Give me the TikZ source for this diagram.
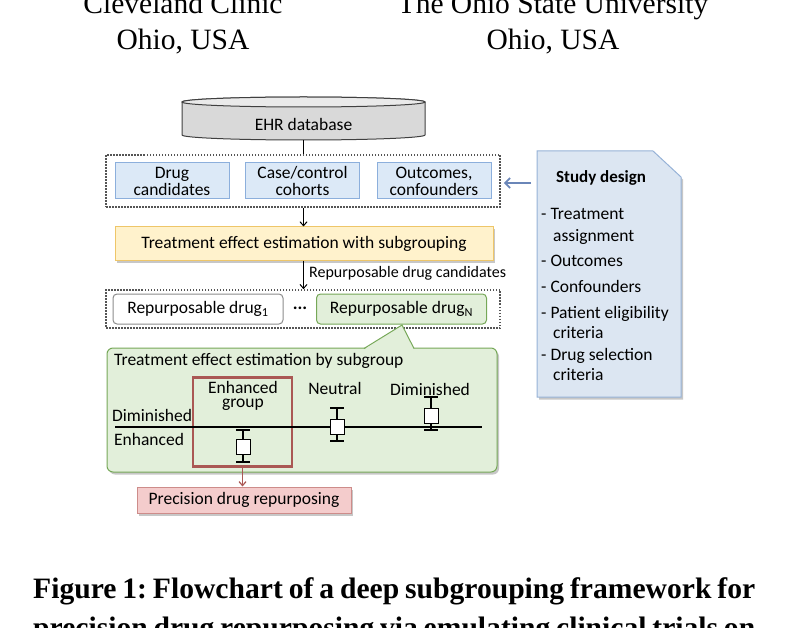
\documentclass[tikz,border=0pt]{standalone}
\usepackage{fontspec}
\setmainfont{Liberation Serif}
\newfontfamily\calfont{Carlito}
\usetikzlibrary{arrows.meta,shadows}
\definecolor{blueF}{RGB}{220,233,247}
\definecolor{blueD}{RGB}{140,175,220}
\definecolor{yelF}{RGB}{255,242,204}
\definecolor{yelD}{RGB}{238,198,105}
\definecolor{grnF}{RGB}{226,239,218}
\definecolor{grnD}{RGB}{118,168,88}
\definecolor{redD}{RGB}{170,88,84}
\definecolor{pinkF}{RGB}{244,204,204}
\definecolor{pinkD}{RGB}{205,140,138}
\definecolor{docF}{RGB}{220,230,242}
\definecolor{docD}{RGB}{150,178,215}
\definecolor{arrB}{RGB}{106,134,184}
\definecolor{cylF}{RGB}{217,217,217}
\definecolor{cylD}{RGB}{64,64,64}
\definecolor{dotD}{RGB}{85,85,85}
\newcommand\boxplt[5]{%
  \draw[line width=1.2pt] (#1,#2) -- (#1,#5);
  \draw[line width=1.3pt] (#1-7,#2) -- (#1+7,#2);
  \draw[line width=1.3pt] (#1-7,#5) -- (#1+7,#5);
  \draw[line width=1pt, fill=white] (#1-7,#3) rectangle (#1+7,#4);}
\frenchspacing
\begin{document}
\begin{tikzpicture}[x=1pt,y=-1pt,
  font=\calfont\fontsize{17.5}{17}\selectfont,
  paper/.style={font=\fontsize{29.5}{30}\selectfont, inner sep=0pt},
  capt/.style={font=\bfseries\fontsize{29.6}{30}\selectfont, inner sep=0pt, anchor=base west},
  dotbox/.style={draw=dotD, line width=1.6pt, dash pattern=on 1.5pt off 1.5pt, inner sep=0pt},
  bluebox/.style={draw=blueD, fill=blueF, line width=1pt, minimum width=114pt, minimum height=36pt, align=center, inner sep=0pt},
  drugbox/.style={draw=black!45, fill=white, line width=1pt, rounded corners=4pt, minimum width=170pt, minimum height=30pt, inner sep=0pt},
  shad/.style={drop shadow={shadow xshift=2pt, shadow yshift=-2.5pt, opacity=0.22, fill=black}},
  conn/.style={line width=1.1pt, -{Straight Barb[length=4pt,width=7pt,line width=1pt]}},
  sdline/.style={anchor=base west, inner sep=0pt},
]
\useasboundingbox (0,0) rectangle (786,628);
\clip (0,0) rectangle (786,628);

% paper text
\node[paper, anchor=base] (aff1) at (183,14) {Cleveland Clinic};
\node[paper, anchor=base] (loc1) at (183,50) {Ohio, USA};
\node[paper, anchor=base] (aff2) at (553,14) {The Ohio State University};
\node[paper, anchor=base] (loc2) at (553,50) {Ohio, USA};
\node[capt] (cap1) at (33,598) {\makebox[722pt][s]{Figure 1: Flowchart of a deep subgrouping framework for}};
\node[capt] (cap2) at (33,637) {\makebox[722pt][s]{precision drug repurposing via emulating clinical trials on}};

% EHR cylinder
\path[fill=cylF, draw=cylD, line width=1pt] (182,102) -- (182,135)
  arc[start angle=180,end angle=360,x radius=121.5pt,y radius=5pt] -- (425,102)
  arc[start angle=0,end angle=180,x radius=121.5pt,y radius=5pt] -- cycle;
\draw[fill=cylF!55!white, draw=cylD, line width=1pt] (303.5,102) ellipse[x radius=121.5pt, y radius=5pt];
\node (ehr) at (303.5,124.5) {EHR database};
\coordinate (ehrb) at (303.5,140);

% first dotted group
\node[dotbox, minimum width=394pt, minimum height=52pt] (dbox1) at (303,181) {};
\node[bluebox] (drugc) at (172,181) {Drug\\candidates};
\node[bluebox] (cohort) at (302.5,181) {Case/control\\cohorts};
\node[bluebox] (outc) at (434,181) {Outcomes,\\confounders};
\draw[line width=1.1pt] (ehrb) -- (dbox1.north -| ehrb);

% yellow
\node[draw=yelD, fill=yelF, line width=1pt, minimum width=378pt, minimum height=33pt, inner sep=0pt, shad] (tee) at (304,243.5) {Treatment effect estimation with subgrouping};
\draw[conn] (dbox1.south -| ehrb) -- (tee.north -| ehrb);

% second dotted group
\node[dotbox, minimum width=394pt, minimum height=38pt] (dbox2) at (303,309) {};
\draw[conn] (tee.south -| ehrb) -- (dbox2.north -| ehrb);
\node[anchor=west, inner sep=0pt, font=\calfont\fontsize{16}{16}\selectfont] (rlab) at (309,273) {Repurposable drug candidates};
\node[drugbox] (drug1) at (198,309) {Repurposable drug\textsubscript{1}};
\node[font=\calfont\bfseries\fontsize{18}{18}\selectfont, inner sep=0pt] (dots) at (300,308) {...};
\node[drugbox, draw=grnD, fill=grnF] (drugN) at (401.5,309) {Repurposable drug\textsubscript{N}};

% callout
\node[draw=grnD, fill=grnF, line width=1pt, rounded corners=6pt, minimum width=390pt, minimum height=124pt, inner sep=0pt, shad] (callout) at (302,410) {};
\coordinate (ptip) at (402,325);
\fill[grnF] (364,349.5) -- (ptip) -- (414,349.5) -- cycle;
\draw[grnD, line width=1pt, line join=miter] (364,348.5) -- (ptip) -- (414,348.5);
\node[anchor=west, inner sep=0pt] (ctitle) at (114,361) {Treatment effect estimation by subgroup};

\node[draw=redD, line width=2.3pt, minimum width=99pt, minimum height=89pt, inner sep=0pt] (egroup) at (242.5,422) {};
\node[anchor=base, inner sep=0pt] (eglab1) at (243,393) {Enhanced};
\node[anchor=base, inner sep=0pt] (eglab2) at (243,407) {group};
\node[inner sep=0pt] (neut) at (335,388) {Neutral};
\node[inner sep=0pt] (dimi) at (430,389) {Diminished};
\node[anchor=west, inner sep=0pt] (ldim) at (112,415) {Diminished};
\node[anchor=west, inner sep=0pt] (lenh) at (114,439) {Enhanced};
\draw[line width=1.2pt] (115,427) -- (482,427);
\boxplt{243}{430}{439}{454}{462}
\boxplt{337}{408}{419}{434}{441}
\boxplt{431}{397}{408}{423}{430}

% precision
\node[draw=pinkD, fill=pinkF, line width=1pt, minimum width=214pt, minimum height=26pt, inner sep=0pt, shad] (prec) at (244,500) {Precision drug repurposing};
\draw[redD, line width=1.6pt, -{Straight Barb[length=4pt,width=7pt,line width=1.2pt]}] (egroup.south) -- (prec.north -| egroup.south);

% study design document
\path[fill=docF, draw=docD, line width=1pt, line join=miter, shad] (537,151) -- (653,151) -- (681,177) -- (681,397) -- (537,397) -- cycle;
\node[font=\calfont\bfseries\fontsize{17}{17}\selectfont, inner sep=0pt] (sdt) at (601,178) {Study design};
\node[sdline] (sd1) at (541,220) {- Treatment};
\node[sdline] (sd2) at (553,241) {assignment};
\node[sdline] (sd3) at (541,266) {- Outcomes};
\node[sdline] (sd4) at (541,292) {- Confounders};
\node[sdline] (sd5) at (541,318) {- Patient eligibility};
\node[sdline] (sd6) at (553,338) {criteria};
\node[sdline] (sd7) at (541,360) {- Drug selection};
\node[sdline] (sd8) at (553,380) {criteria};
\coordinate (sdarr) at (531,183);
\draw[arrB, line width=2pt, shorten >=3pt, -{Straight Barb[length=5pt,width=10pt,line width=1.8pt]}] (sdarr) -- (dbox1.east |- sdarr);
\end{tikzpicture}
\end{document}
